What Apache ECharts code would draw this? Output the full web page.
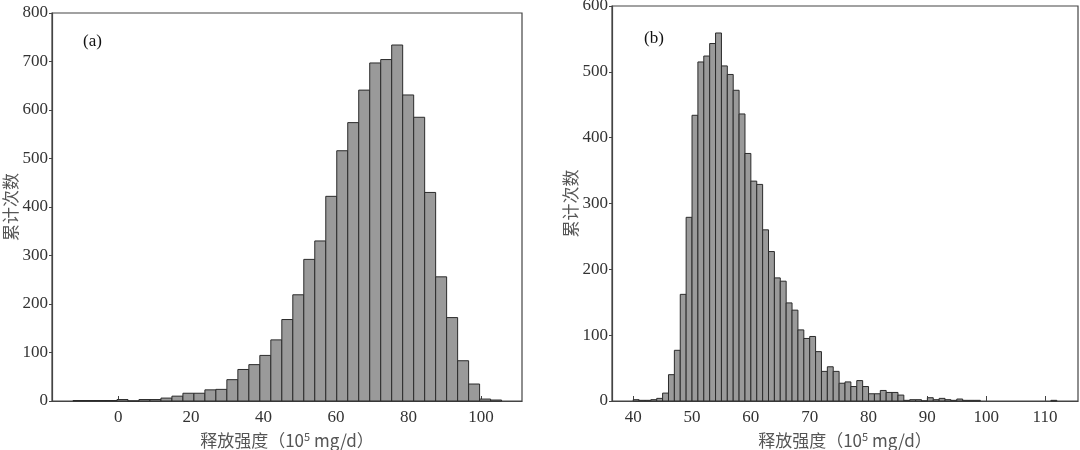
<!DOCTYPE html>
<html>
<head>
<meta charset="utf-8">
<script src="https://cdn.jsdelivr.net/npm/echarts@6/dist/echarts.min.js"></script>
<style>
  html, body { margin: 0; padding: 0; background: #fff; }
  #main { width: 1080px; height: 450px; }
</style>
</head>
<body>
<div id="main"></div>
<script>
// (a) bin left edges, bin width and counts
var edgesA = [-12.50, -9.47, -6.44, -3.41, -0.38, 2.65, 5.68, 8.71, 11.74, 14.77,
  17.80, 20.83, 23.86, 26.89, 29.92, 32.95, 35.98, 39.01, 42.04, 45.07,
  48.10, 51.13, 54.16, 57.19, 60.22, 63.25, 66.28, 69.31, 72.34, 75.37,
  78.40, 81.43, 84.46, 87.49, 90.52, 93.55, 96.58, 99.61, 102.64];
var widthA = 3.03;
var countsA = [1, 1, 1, 1, 3, 0, 3, 3, 6, 10,
  16, 16, 23, 24, 44, 65, 75, 94, 126, 168,
  219, 292, 330, 422, 516, 574, 641, 697, 704, 734,
  631, 585, 430, 256, 172, 83, 35, 4, 2];
var ticksA = [0, 20, 40, 60, 80, 100];

// (b) bin left edges, bin width and counts
var edgesB = [40, 41, 42, 43, 44, 45, 46, 47, 48, 49,
  50, 51, 52, 53, 54, 55, 56, 57, 58, 59,
  60, 61, 62, 63, 64, 65, 66, 67, 68, 69,
  70, 71, 72, 73, 74, 75, 76, 77, 78, 79,
  80, 81, 82, 83, 84, 85, 86, 87, 88, 89,
  90, 91, 92, 93, 94, 95, 96, 97, 98, 111];
var widthB = 1;
var countsB = [2, 1, 1, 2, 4, 12, 40, 77, 162, 279,
  434, 515, 524, 543, 559, 509, 496, 472, 436, 376,
  334, 329, 260, 227, 187, 182, 149, 138, 108, 95,
  98, 75, 45, 52, 45, 27, 29, 22, 31, 22,
  11, 11, 16, 13, 13, 9, 1, 2, 2, 0,
  5, 2, 4, 2, 1, 3, 1, 1, 1, 1];
var ticksB = [40, 50, 60, 70, 80, 90, 100, 110];

function toBins(edges, width, counts) {
  return edges.map(function (e, i) { return [e, e + width, counts[i]]; });
}

function renderBar(params, api) {
  var p0 = api.coord([api.value(0), api.value(2)]);
  var p1 = api.coord([api.value(1), 0]);
  return {
    type: 'rect',
    shape: { x: p0[0], y: p0[1], width: p1[0] - p0[0], height: p1[1] - p0[1] },
    style: { fill: '#9a9a9a', stroke: '#2b2b2b', lineWidth: 1 }
  };
}

var serif = '"Liberation Serif", "Times New Roman", serif';
var cjk = '"Noto Sans CJK SC", sans-serif';

function xAxisFor(gi, min, max, ticks) {
  return {
    type: 'value', gridIndex: gi, min: min, max: max,
    splitLine: { show: false },
    axisLine: { onZero: false, lineStyle: { color: '#444', width: 1.2 } },
    axisTick: { inside: true, length: 5, customValues: ticks, lineStyle: { color: '#444' } },
    axisLabel: { customValues: ticks, color: '#333', fontFamily: serif, fontSize: 17, margin: 8 },
    name: '释放强度（10{s|5} mg/d）',
    nameLocation: 'middle', nameGap: 27,
    nameTextStyle: {
      color: '#555', fontFamily: cjk, fontSize: 17, lineHeight: 20,
      rich: { s: { fontSize: 11, verticalAlign: 'top', lineHeight: 14, color: '#555', fontFamily: cjk } }
    }
  };
}

function yAxisFor(gi, max, gap) {
  return {
    type: 'value', gridIndex: gi, min: 0, max: max, interval: 100,
    splitLine: { show: false },
    axisLine: { show: true, onZero: false, lineStyle: { color: '#444', width: 1.2 } },
    axisTick: { show: true, length: 3, lineStyle: { color: '#444' } },
    axisLabel: { color: '#333', fontFamily: serif, fontSize: 17, margin: 4 },
    name: '累计次数', nameLocation: 'middle', nameGap: gap, nameRotate: 90,
    nameTextStyle: { color: '#555', fontFamily: cjk, fontSize: 17 }
  };
}

var chart = echarts.init(document.getElementById('main'), null, { renderer: 'canvas' });
chart.setOption({
  animation: false,
  backgroundColor: '#fff',
  grid: [
    { left: 52, top: 13, width: 470, height: 388, show: true, borderColor: '#444', borderWidth: 1.2,
      outerBoundsMode: 'none', containLabel: false },
    { left: 612, top: 6, width: 466, height: 395, show: true, borderColor: '#444', borderWidth: 1.2,
      outerBoundsMode: 'none', containLabel: false }
  ],
  xAxis: [xAxisFor(0, -18.3, 111.3, ticksA), xAxisFor(1, 36.4, 115.6, ticksB)],
  yAxis: [yAxisFor(0, 800, 31), yAxisFor(1, 600, 33)],
  graphic: [
    { type: 'text', left: 83, top: 33, style: { text: '(a)', font: '17px ' + serif, fill: '#111' } },
    { type: 'text', left: 644, top: 30, style: { text: '(b)', font: '17px ' + serif, fill: '#111' } }
  ],
  series: [
    { type: 'custom', xAxisIndex: 0, yAxisIndex: 0, renderItem: renderBar,
      encode: { x: [0, 1], y: 2 }, data: toBins(edgesA, widthA, countsA) },
    { type: 'custom', xAxisIndex: 1, yAxisIndex: 1, renderItem: renderBar,
      encode: { x: [0, 1], y: 2 }, data: toBins(edgesB, widthB, countsB) }
  ]
});
</script>
</body>
</html>
